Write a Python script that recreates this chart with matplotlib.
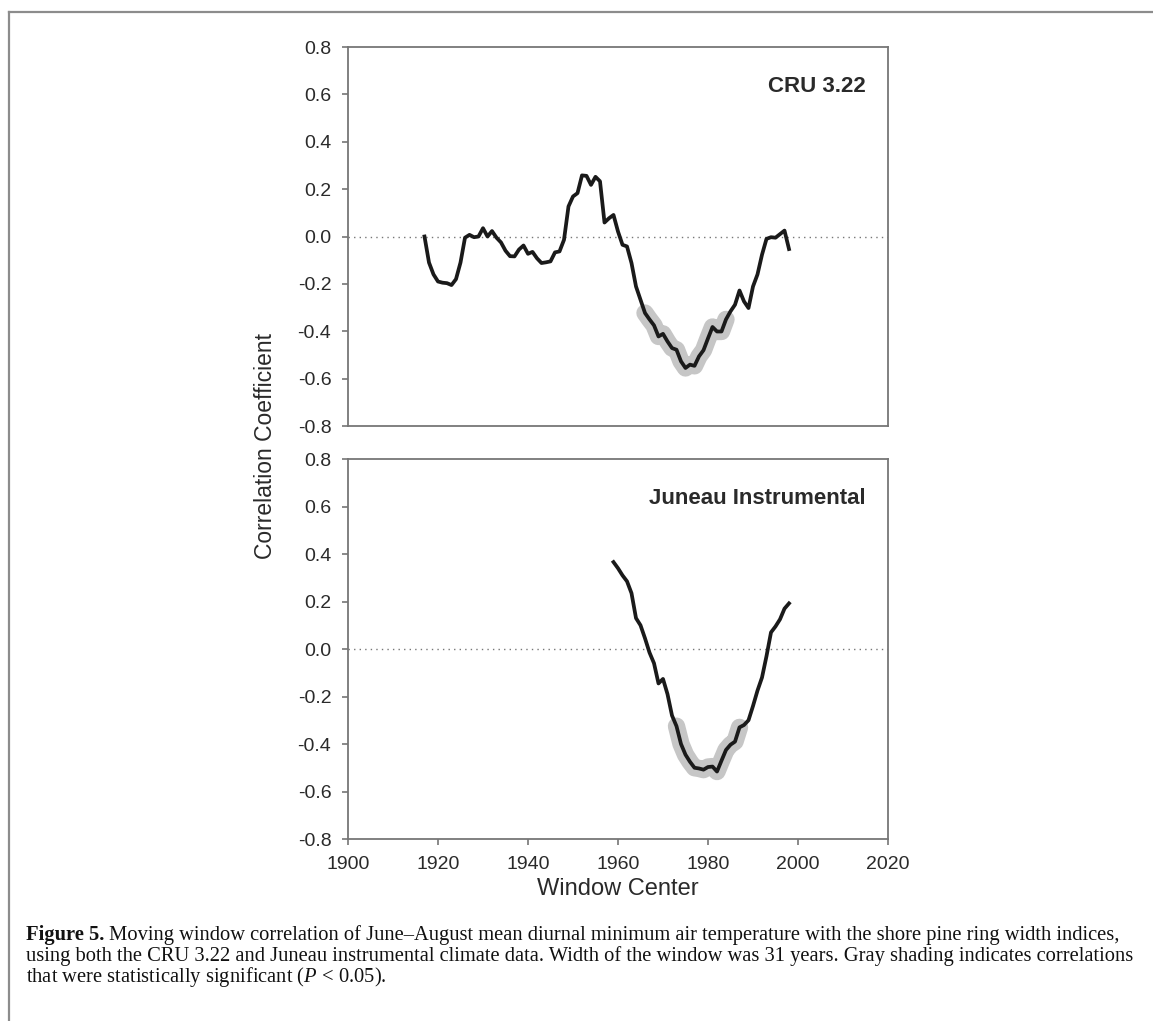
import matplotlib
matplotlib.use("Agg")
import matplotlib.pyplot as plt
from matplotlib.lines import Line2D
import numpy as np

plt.rcParams['font.family'] = ['Liberation Sans', 'DejaVu Sans']
plt.rcParams['mathtext.fontset'] = 'custom'
plt.rcParams['mathtext.rm'] = 'Liberation Serif'
plt.rcParams['mathtext.it'] = 'Liberation Serif:italic'

# CRU 3.22 moving window correlation, window centres 1917-1998
cru_years = np.arange(1917, 1999)
cru_r = [0.00, -0.11, -0.16, -0.19, -0.195, -0.197, -0.205, -0.18, -0.11, -0.005,
         0.007, -0.003, 0.0, 0.035, 0.0, 0.023, -0.005, -0.025, -0.06, -0.083,
         -0.084, -0.055, -0.038, -0.073, -0.065, -0.092, -0.112, -0.109, -0.105, -0.067,
         -0.063, -0.014, 0.127, 0.169, 0.183, 0.258, 0.256, 0.218, 0.252, 0.233,
         0.059, 0.077, 0.091, 0.021, -0.035, -0.042, -0.112, -0.211, -0.267, -0.323,
         -0.35, -0.375, -0.422, -0.411, -0.443, -0.471, -0.478, -0.527, -0.555, -0.541,
         -0.546, -0.506, -0.48, -0.43, -0.382, -0.401, -0.401, -0.35, -0.316, -0.288,
         -0.228, -0.274, -0.302, -0.211, -0.16, -0.077, -0.01, -0.003, -0.005, 0.01,
         0.025, -0.053]
cru_sig = (1966, 1984)

# Juneau instrumental, window centres 1959-1998
jun_years = np.arange(1959, 1999)
jun_r = [0.366, 0.34, 0.31, 0.285, 0.235, 0.13, 0.10, 0.045, -0.015, -0.06,
         -0.145, -0.126, -0.19, -0.28, -0.325, -0.40, -0.445, -0.475, -0.50, -0.503,
         -0.508, -0.497, -0.495, -0.516, -0.47, -0.425, -0.403, -0.39, -0.33, -0.32,
         -0.30, -0.24, -0.175, -0.12, -0.03, 0.07, 0.095, 0.125, 0.17, 0.192]
jun_sig = (1973, 1987)

yticks = np.arange(-0.8, 0.81, 0.2)
xticks = np.arange(1900, 2021, 20)

W, H = 1153, 1021
fig = plt.figure(figsize=(W / 100, H / 100), dpi=100)

spine_col = '#767676'
text_col = '#2a2a2a'


def panel(rect, years, r, sig, title):
    ax = fig.add_axes(rect)
    r = np.array(r)
    m = (years >= sig[0]) & (years <= sig[1])
    ax.axhline(0, color='#777777', lw=1.0, ls=(0, (1, 3)), zorder=1)
    ax.plot(years[m], r[m], color='#c6c6c6', lw=12.5, solid_capstyle='round',
            solid_joinstyle='round', zorder=2)
    ax.plot(years, r, color='#1a1a1a', lw=2.7, solid_joinstyle='round', zorder=3)
    ax.set_xlim(1900, 2020)
    ax.set_ylim(-0.8, 0.8)
    ax.set_yticks(yticks)
    ax.set_yticklabels(['%.1f' % v if abs(v) > 1e-9 else '0.0' for v in yticks])
    ax.set_xticks(xticks)
    for s in ax.spines.values():
        s.set_color(spine_col)
        s.set_linewidth(1.3)
    ax.tick_params(direction='out', length=4, width=1.2, color=spine_col,
                   labelsize=14, labelcolor=text_col, pad=8)
    ax.text(0.958, 0.895, title, transform=ax.transAxes, ha='right', va='center',
            fontsize=16, fontweight='bold', color=text_col)
    return ax


left = 348 / W
width = (888 - 348) / W
ax1 = panel([left, 1 - 426 / H, width, (426 - 47) / H], cru_years, cru_r, cru_sig, 'CRU 3.22')
ax1.tick_params(axis='x', labelbottom=False, length=0)
ax2 = panel([left, 1 - 839 / H, width, (839 - 459) / H], jun_years, jun_r, jun_sig,
            'Juneau Instrumental')

fig.text(266 / W, 1 - 446 / H, 'Correlation Coefficient', rotation=90, ha='center',
         va='center', fontsize=16.5, color=text_col)
fig.text(618 / W, 1 - 889 / H, 'Window Center', ha='center', va='center',
         fontsize=17, color=text_col)

# frame around the figure + caption
fig.add_artist(Line2D([9 / W, 1], [1 - 12 / H, 1 - 12 / H], transform=fig.transFigure,
                      color='#8c8c8c', lw=1.6))
fig.add_artist(Line2D([9 / W, 9 / W], [0, 1 - 12 / H], transform=fig.transFigure,
                      color='#8c8c8c', lw=1.6))

cap1 = (' Moving window correlation of June\u2013August mean diurnal minimum air '
        'temperature with the shore pine ring width indices,')
cap2 = ('using both the CRU 3.22 and Juneau instrumental climate data. Width of the '
        'window was 31 years. Gray shading indicates correlations')
cap3 = 'that were statistically significant ($P$ < 0.05).'

serif = ['Liberation Serif', 'DejaVu Serif']
renderer = fig.canvas.get_renderer()
x0 = 26
# size the caption so its second line runs to the right edge like the original
probe = fig.text(0, 0, cap2, fontsize=10, family=serif)
fs = 10 * (1136 - x0) / probe.get_window_extent(renderer).width
probe.remove()

base = [940, 961, 982]
t_bold = fig.text(x0 / W, 1 - base[0] / H, 'Figure 5.', fontsize=fs, fontweight='bold',
                  family=serif, va='baseline', color='#111111')
bb = t_bold.get_window_extent(renderer)
fig.text(bb.x1 / W, 1 - base[0] / H, cap1, fontsize=fs, family=serif, va='baseline',
         color='#111111')
fig.text(x0 / W, 1 - base[1] / H, cap2, fontsize=fs, family=serif, va='baseline',
         color='#111111')
fig.text(x0 / W, 1 - base[2] / H, cap3, fontsize=fs, family=serif, va='baseline',
         color='#111111')

fig.savefig('out.png', dpi=100, facecolor='white')
